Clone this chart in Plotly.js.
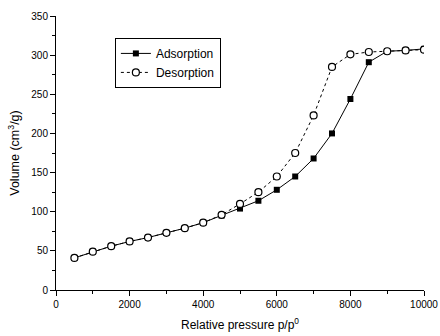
<!DOCTYPE html>
<html><head><meta charset="utf-8">
<script src="https://cdn.plot.ly/plotly-3.0.1.min.js"></script>
<style>html,body{margin:0;padding:0;background:#fff}#chart{width:440px;height:336px}</style>
</head><body><div id="chart"></div>
<script>
const pressure = [500,1000,1500,2000,2500,3000,3500,4000,4500,5000,5500,6000,6500,7000,7500,8000,8500,9000,9500,10000];
const adsorption = [41,49,56,62,67,73,79,86,95,104,114,128,145,168,200,244,291,305,306,308];
const desorption = [41,49,56,62,67,73,79,86,96,110,125,145,175,223,285,301,304,305,306,307];

const traces = [
  {x: pressure, y: adsorption, name: 'Adsorption', type: 'scatter', mode: 'lines+markers',
   line: {color: '#000', width: 1}, marker: {symbol: 'square', size: 6, color: '#000'}},
  {x: pressure, y: desorption, name: 'Desorption', type: 'scatter', mode: 'lines+markers',
   line: {color: '#000', width: 1, dash: 'dot'},
   marker: {symbol: 'circle', size: 7, color: '#fff', line: {width: 1.2, color: '#000'}}}
];
const axisCommon = {showgrid: false, zeroline: false, showline: true, linecolor: '#000', linewidth: 1,
  ticks: 'outside', ticklen: 5, tickcolor: '#000', tickwidth: 1, exponentformat: 'none',
  tickformat: 'd',
  tickfont: {family: 'Liberation Sans, Arial, sans-serif', size: 10, color: '#000'}};
const layout = {
  width: 440, height: 336,
  margin: {l: 56, r: 16, t: 16, b: 46},
  paper_bgcolor: '#fff', plot_bgcolor: '#fff',
  font: {family: 'Liberation Sans, Arial, sans-serif', color: '#000'},
  xaxis: Object.assign({}, axisCommon, {range: [0, 10000], dtick: 2000, tick0: 0,
    minor: {dtick: 1000, ticklen: 3, tickcolor: '#000', ticks: 'outside', showgrid: false},
    title: {text: 'Relative pressure p/p<sup>0</sup>', font: {size: 12, color: '#000'}, standoff: 11}}),
  yaxis: Object.assign({}, axisCommon, {range: [0, 350], dtick: 50, tick0: 0,
    minor: {dtick: 25, ticklen: 3, tickcolor: '#000', ticks: 'outside', showgrid: false},
    title: {text: 'Volume (cm<sup>3</sup>/g)', font: {size: 12.5, color: '#000'}, standoff: 8}}),
  showlegend: true,
  legend: {x: 0.16, y: 0.92, xanchor: 'left', yanchor: 'top', bgcolor: '#fff',
    bordercolor: '#000', borderwidth: 1, font: {size: 12, color: '#000'},
    tracegroupgap: 0, itemwidth: 30}
};
Plotly.newPlot('chart', traces, layout, {displayModeBar: false, staticPlot: true});
</script></body></html>
